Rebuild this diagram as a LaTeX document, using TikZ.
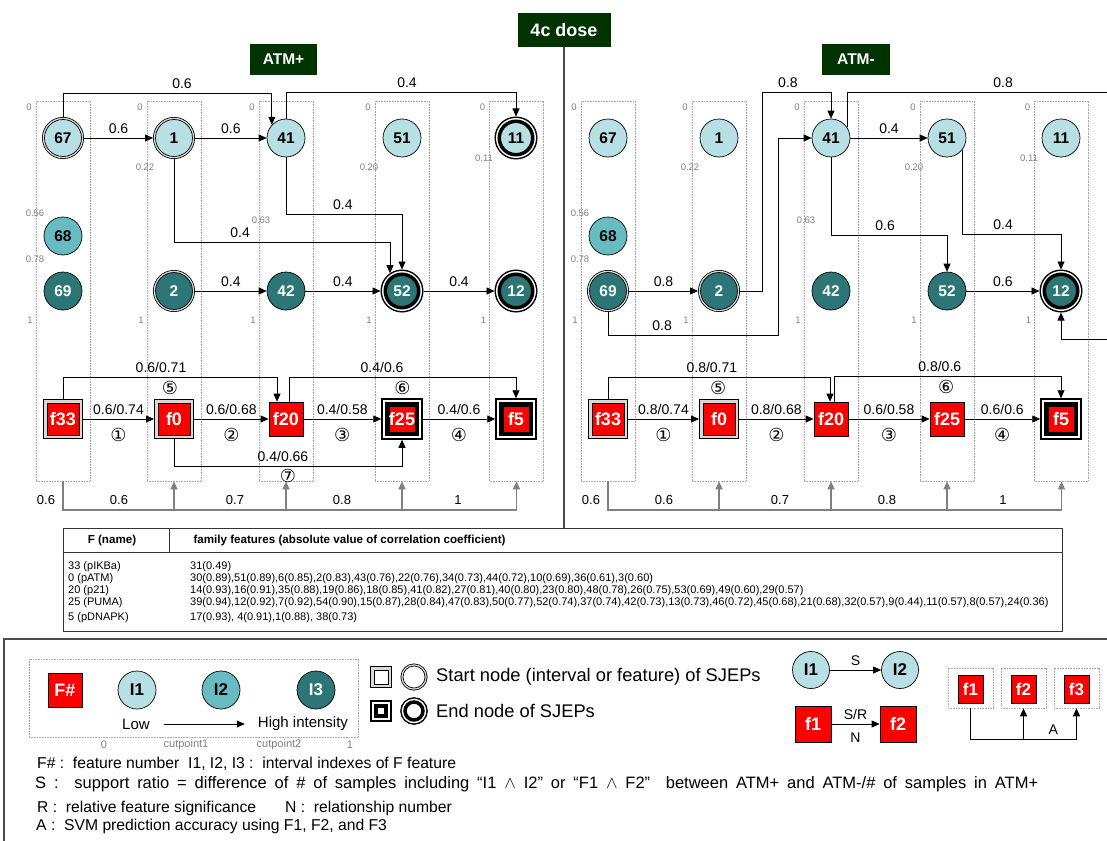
\documentclass[tikz,border=0pt]{standalone}
\usepackage{fontspec}
\setmainfont{Liberation Sans}
\newfontfamily\symfont{DejaVu Sans}
\usetikzlibrary{arrows.meta}

\definecolor{ilow}{RGB}{184,223,227}
\definecolor{imid}{RGB}{104,187,192}
\definecolor{ihigh}{RGB}{46,117,118}
\definecolor{fred}{RGB}{255,0,0}
\definecolor{dgreen}{RGB}{0,51,0}
\definecolor{tickgray}{RGB}{128,128,128}

\newcommand\fsz[1]{\fontsize{#1}{#1}\selectfont}

\tikzset{
  ival/.style={circle, draw=black, line width=0.7pt, minimum size=38pt, inner sep=0pt, font=\bfseries\fsz{15.5}},
  lo/.style={ival, fill=ilow},
  md/.style={ival, fill=imid},
  hi/.style={ival, fill=ihigh, text=white},
  startc/.style={minimum size=37pt, outer sep=2.5pt,
    preaction={draw=black, line width=5pt},
    preaction={draw=gray!30, line width=3.4pt}},
  endc/.style={minimum size=33.5pt, line width=3.5pt, outer sep=4.75pt,
    preaction={draw=black, line width=9.5pt},
    preaction={draw=white, line width=6.5pt}},
  feat/.style={rectangle, draw=black, line width=0.7pt, fill=fred, text=white,
    minimum size=34pt, inner sep=0pt, font=\bfseries\fsz{18}},
  starts/.style={minimum size=32pt, outer sep=4pt,
    preaction={draw=black, line width=8pt},
    preaction={draw=gray!30, line width=6.4pt}},
  ends/.style={minimum size=29.5pt, line width=4.5pt, outer sep=6pt,
    preaction={draw=black, line width=12pt},
    preaction={draw=white, line width=8.5pt}},
  conn/.style={line width=0.8pt},
  arr/.style={conn, -{Triangle[length=8pt,width=7pt]}},
  acc/.style={draw=tickgray, line width=1.3pt},
  accarr/.style={acc, -{Triangle[length=8pt,width=7pt]}},
  lbl/.style={font=\fsz{14}, inner sep=0pt, anchor=base, yshift=4.5pt},
  rel/.style={font=\symfont\fsz{18}, inner sep=0pt, anchor=center},
  colbox/.style={draw=gray!70, dash pattern=on 0.8pt off 0.8pt, line width=0.6pt,
    minimum width=54pt, minimum height=380pt, inner sep=0pt},
  tick/.style={font=\fsz{9.5}, text=tickgray, inner sep=0pt},
  title/.style={fill=dgreen, text=white, inner sep=0pt},
  tabtxt/.style={font=\fsz{11}, anchor=west, inner sep=0pt},
  note/.style={font=\fsz{15.7}, anchor=west, inner sep=0pt},
}

\begin{document}
\begin{tikzpicture}[x=1pt, y=-1pt]
\useasboundingbox (0,0) rectangle (1107,840);

\node[title, font=\bfseries\fsz{18}, minimum width=93pt, minimum height=34pt] (dose) at (564,30) {4c dose};
\node[title, font=\bfseries\fsz{15.5}, minimum width=67pt, minimum height=31pt] (atmp) at (283.5,59.5) {ATM+};
\node[title, font=\bfseries\fsz{15.5}, minimum width=68pt, minimum height=31pt] (atmm) at (856,59.5) {ATM-};

\foreach \p/\dx in {L/0,R/545} {
  \foreach \i/\x in {1/63,2/174,3/286,4/402,5/516.5} {
    \node[colbox] (\p c\i) at (\x+\dx,291) {};
    \node[tick] (\p z\i) at (\x+\dx-34,107) {0};
    \node[tick] (\p o\i) at (\x+\dx-33,320) {1};
  }
  \foreach \v/\x/\y in {0.56/35/213, 0.78/35/259, 0.22/145/167, 0.63/261/220, 0.20/369/167, 0.11/484/158}
    \node[tick] at (\x+\dx,\y) {\v};
  \draw[acc] (\p c1.south) |- (\p c5.south |- 0,510);
  \foreach \i in {2,...,5} \draw[accarr] (\p c\i.south |- 0,510) -- (\p c\i.south);
}
\foreach \v/\x in {0.6/46, 0.6/119, 0.7/235, 0.8/342, 1/458}
  \node[font=\fsz{13}, anchor=base] at (\x,504) {\v};
\foreach \v/\x in {0.6/591, 0.6/664, 0.7/780, 0.8/887, 1/1003}
  \node[font=\fsz{13}, anchor=base] at (\x,504) {\v};

% ATM+
\node[lo, startc] (L67) at (63,138) {67};
\node[lo, startc] (L1) at (174,138) {1};
\node[lo] (L41) at (286,138) {41};
\node[lo] (L51) at (402,138) {51};
\node[lo, endc] (L11) at (516,138) {11};
\node[md] (L68) at (63,236) {68};
\node[hi] (L69) at (63,291) {69};
\node[hi, startc] (L2) at (174,291) {2};
\node[hi] (L42) at (286,291) {42};
\node[hi, endc] (L52) at (402,291) {52};
\node[hi, endc] (L12) at (516,291) {12};

\draw[arr] (L67) -- node[lbl]{0.6} (L1);
\draw[arr] (L1) -- node[lbl]{0.6} (L41);
\draw[arr] (L67.north) -- (L67.north |- 0,93) -| node[lbl, pos=0.285]{0.6} (L41.137);
\draw[arr] (L41.north) -- (L41.north |- 0,92) -| node[lbl, pos=0.263]{0.4} (L11.north);
\draw[arr] (L1.south) -- (L1.south |- 0,242) -| node[lbl, pos=0.153]{0.4} (L52.124);
\draw[arr] (L41.south) -- (L41.south |- 0,214) -| node[lbl, pos=0.245]{0.4} (L52.north);
\draw[arr] (L2) -- node[lbl]{0.4} (L42);
\draw[arr] (L42) -- node[lbl]{0.4} (L52);
\draw[arr] (L52) -- node[lbl]{0.4} (L12);

\node[feat, starts] (Lf33) at (63,419) {f33};
\node[feat, starts] (Lf0) at (174,419) {f0};
\node[feat] (Lf20) at (286,419) {f20};
\node[feat, ends] (Lf25) at (402,419) {f25};
\node[feat, ends] (Lf5) at (516,419) {f5};

\draw[arr] (Lf33) -- node[lbl]{0.6/0.74} node[rel, yshift=-16pt]{①} (Lf0);
\draw[arr] (Lf0) -- node[lbl]{0.6/0.68} node[rel, yshift=-16pt]{②} (Lf20);
\draw[arr] (Lf20) -- node[lbl]{0.4/0.58} node[rel, yshift=-16pt]{③} (Lf25);
\draw[arr] (Lf25) -- node[lbl]{0.4/0.6} node[rel, yshift=-16pt]{④} (Lf5);
\draw[arr] (Lf33.north) -- (Lf33.north |- 0,377) -| node[lbl, pos=0.229]{0.6/0.71} node[rel, pos=0.25, yshift=-10.5pt]{⑤} ([xshift=-9pt]Lf20.north);
\draw[arr] ([xshift=3pt]Lf20.north) |- node[lbl, pos=0.705]{0.4/0.6} node[rel, pos=0.75, yshift=-10.5pt]{⑥} (Lf5.north |- 0,377) -- (Lf5.north);
\draw[arr] (Lf0.south) -- (Lf0.south |- 0,466) -| node[lbl, pos=0.239]{0.4/0.66} node[rel, pos=0.25, yshift=-10pt]{⑦} (Lf25.south);

% ATM-
\node[lo] (R67) at (608,138) {67};
\node[lo] (R1) at (719,138) {1};
\node[lo] (R41) at (831,138) {41};
\node[lo] (R51) at (947,138) {51};
\node[lo] (R11) at (1061,138) {11};
\node[md] (R68) at (608,236) {68};
\node[hi, startc] (R69) at (608,291) {69};
\node[hi, startc] (R2) at (719,291) {2};
\node[hi] (R42) at (831,291) {42};
\node[hi] (R52) at (947,291) {52};
\node[hi, endc] (R12) at (1061,291) {12};
\coordinate (Rtop) at (1107,92);
\coordinate (Rin) at (1107,339);

\draw[arr] (R69) -- node[lbl]{0.8} (R2);
\draw[arr] (R69.south) |- node[lbl, pos=0.659]{0.8} (778,335) |- (R41.west);
\draw[arr] (R2.east) -| (762,92) -| node[lbl, pos=0.188]{0.8} (R41.north);
\draw[arr] (R41) -- node[lbl]{0.4} (R51);
\draw[arr] (R41.south) -- (R41.south |- 0,235) -| node[lbl, pos=0.233]{0.6} (R52.north);
\draw[arr] (R51.322) -- (R51.322 |- 0,234) -| node[lbl, pos=0.207]{0.4} (R12.north);
\draw[arr] (R52) -- node[lbl]{0.6} (R12);
\draw[conn] (R41.33) |- node[lbl, pos=0.8]{0.8} (Rtop);
\draw[arr] (Rin) -| (R12.south);

\node[feat, starts] (Rf33) at (608,419) {f33};
\node[feat, starts] (Rf0) at (719,419) {f0};
\node[feat] (Rf20) at (831,419) {f20};
\node[feat] (Rf25) at (947,419) {f25};
\node[feat, ends] (Rf5) at (1061,419) {f5};

\draw[arr] (Rf33) -- node[lbl]{0.8/0.74} node[rel, yshift=-16pt]{①} (Rf0);
\draw[arr] (Rf0) -- node[lbl]{0.8/0.68} node[rel, yshift=-16pt]{②} (Rf20);
\draw[arr] (Rf20) -- node[lbl]{0.6/0.58} node[rel, yshift=-16pt]{③} (Rf25);
\draw[arr] (Rf25) -- node[lbl]{0.6/0.6} node[rel, yshift=-16pt]{④} (Rf5);
\draw[arr] (Rf33.north) -- (Rf33.north |- 0,377) -| node[lbl, pos=0.234]{0.8/0.71} node[rel, pos=0.248, yshift=-10.5pt]{⑤} ([xshift=-1pt]Rf20.north);
\draw[arr] ([xshift=3pt]Rf20.north) |- node[lbl, pos=0.733]{0.8/0.6} node[rel, pos=0.747, yshift=-10.5pt]{⑥} (Rf5.north |- 0,376) -- (Rf5.north);

% table
\node[draw=black!80, line width=0.9pt, minimum width=999pt, minimum height=103pt, inner sep=0pt] (tab) at (562.5,579.5) {};
\draw[black!80, line width=0.9pt] ([yshift=-25pt]tab.north west) -- ([yshift=-25pt]tab.north east);
\draw[black!80, line width=0.9pt] ([xshift=107pt]tab.north west) -- ++(0,25);
\draw[black!70, line width=1.2pt] (dose.south) -- (dose.south |- tab.north);
\node[font=\bfseries\fsz{11.6}] (thF) at (112,540) {F (name)};
\node[font=\bfseries\fsz{11.6}, anchor=west] (thG) at (190,540) {family features (absolute value of correlation coefficient)};
\foreach \y/\nm/\fam in {567/{33 (pIKBa)}/{31(0.49)},
  579/{0 (pATM)}/{30(0.89),51(0.89),6(0.85),2(0.83),43(0.76),22(0.76),34(0.73),44(0.72),10(0.69),36(0.61),3(0.60)},
  591/{20 (p21)}/{14(0.93),16(0.91),35(0.88),19(0.86),18(0.85),41(0.82),27(0.81),40(0.80),23(0.80),48(0.78),26(0.75),53(0.69),49(0.60),29(0.57)},
  603/{25 (PUMA)}/{39(0.94),12(0.92),7(0.92),54(0.90),15(0.87),28(0.84),47(0.83),50(0.77),52(0.74),37(0.74),42(0.73),13(0.73),46(0.72),45(0.68),21(0.68),32(0.57),9(0.44),11(0.57),8(0.57),24(0.36)},
  618/{5 (pDNAPK)}/{17(0.93), 4(0.91),1(0.88), 38(0.73)}} {
  \node[tabtxt] (tn\y) at (68,\y) {\nm};
  \node[tabtxt] (tf\y) at (190,\y) {\fam};
}

% legend
\draw[black!70, line width=1.3pt] (1112,639) -- (4,639) -- (4,845);
\node[colbox, minimum width=329pt, minimum height=78pt] (kbox) at (193.5,698) {};
\node[feat, minimum size=34pt] (kF) at (65,690) {F\#};
\node[lo, font=\bfseries\fsz{17}] (kI1) at (137,690) {I1};
\node[md, font=\bfseries\fsz{17}] (kI2) at (221,690) {I2};
\node[hi, font=\bfseries\fsz{17}] (kI3) at (316,690) {I3};
\node[font=\fsz{15}, inner sep=0pt] (klow) at (136,724) {Low};
\node[font=\fsz{15}, inner sep=0pt] (khigh) at (303,724) {High intensity};
\draw[arr, line width=0.7pt] ([xshift=14pt]klow.east) -- ([xshift=-13pt]khigh.west);
\foreach \t/\x in {0/104, cutpoint1/186, cutpoint2/279, 1/350}
  \node[tick, font=\fsz{11}] (kc\x) at (\x,745) {\t};

\node[starts, draw=black, line width=0.7pt, fill=white, minimum size=14pt] (kss) at (381,677) {};
\node[startc, circle, draw=black, line width=0.7pt, fill=white, minimum size=22pt] (ksc) at (414,677) {};
\node[ends, draw=black, fill=white, minimum size=10pt] (kes) at (381,711) {};
\node[endc, circle, draw=black, fill=white, minimum size=18pt] (kec) at (414,711) {};
\node[note, font=\fsz{18.3}] (kstart) at (436,677) {Start node (interval or feature) of SJEPs};
\node[note, font=\fsz{18.3}] (kend) at (436,711) {End node of SJEPs};

\node[lo, minimum size=37pt, font=\bfseries\fsz{17}] (kJ1) at (811,670) {I1};
\node[lo, minimum size=37pt, font=\bfseries\fsz{17}] (kJ2) at (900,670) {I2};
\draw[arr] (kJ1) -- node[lbl]{S} (kJ2);
\node[feat, minimum size=36pt] (kf1) at (813,724) {f1};
\node[feat, minimum size=36pt] (kf2) at (898,724) {f2};
\draw[arr] (kf1) -- node[lbl]{S/R} node[font=\fsz{14}, yshift=-14pt]{N} (kf2);

\foreach \i/\x in {1/970.5, 2/1023.5, 3/1076.5} {
  \node[colbox, minimum width=45pt, minimum height=40pt] (kb\i) at (\x,688) {};
  \node[feat, minimum width=25pt, minimum height=28pt, font=\bfseries\fsz{17}] (kq\i) at (\x,689) {f\i};
}
\draw[conn] (kb1.south) |- node[lbl, pos=0.89]{A} (kb3.south |- 0,739);
\draw[arr] (kb2.south |- 0,739) -- (kb2.south);
\draw[arr] (kb3.south |- 0,739) -- (kb3.south);

\node[note] (n1) at (37,764) {F\# :\ \ feature number\ \ I1, I2, I3 :\ \ interval indexes of F feature};
\node[note, font=\fsz{16.5}] (n2) at (35,784) {\makebox[1003pt][s]{S :\ \ support ratio = difference of \# of samples including “I1 $\wedge$ I2” or “F1 $\wedge$ F2”\ \ between ATM+ and ATM-/\# of samples in ATM+}};
\node[note] (n3) at (37,808) {R :\ \ relative feature significance};
\node[note] (n4) at (285,808) {N :\ \ relationship number};
\node[note] (n5) at (36,826) {A :\ \ SVM prediction accuracy using F1, F2, and F3};
\end{tikzpicture}
\end{document}
